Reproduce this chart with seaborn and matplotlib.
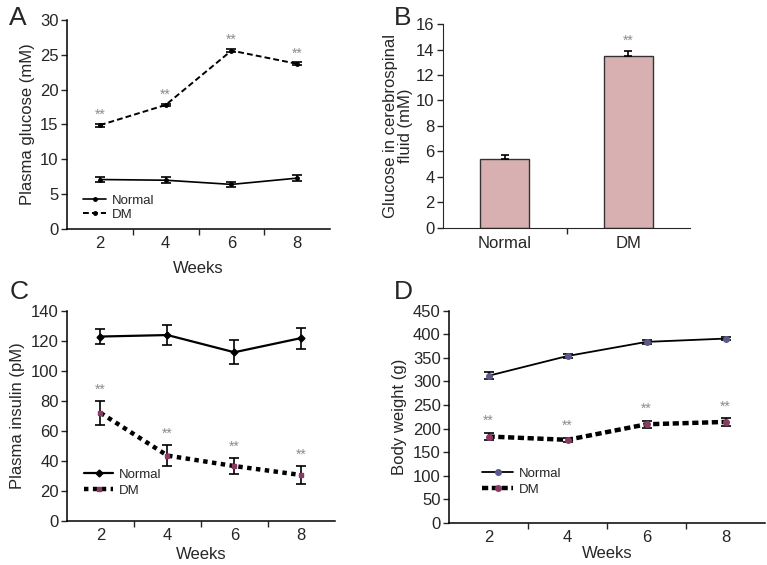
import numpy as np
import pandas as pd
import seaborn as sns
import matplotlib.pyplot as plt

weeks = ["2", "4", "6", "8"]

glucose_normal = [7.1, 7.0, 6.4, 7.3]
glucose_normal_err = [0.4, 0.4, 0.4, 0.4]
glucose_dm = [14.9, 17.8, 25.6, 23.7]
glucose_dm_err = [0.2, 0.2, 0.2, 0.2]

csf_groups = ["Normal", "DM"]
csf_glucose = [5.4, 13.5]
csf_err = [0.3, 0.35]

insulin_normal = [123, 124, 112.5, 122]
insulin_normal_err = [5, 6.5, 8, 7]
insulin_dm = [72, 43.5, 36.5, 30.5]
insulin_dm_err = [8, 7, 5.5, 6]

weight_normal = [312, 354, 384, 391]
weight_normal_err = [7, 4, 5, 4]
weight_dm = [183, 176, 209, 214]
weight_dm_err = [8, 4, 7, 8]

sns.set_style("ticks")
plt.rcParams['font.family'] = ['Liberation Sans', 'DejaVu Sans']
plt.rcParams['xtick.direction'] = 'out'
plt.rcParams['ytick.direction'] = 'out'

STAR = "#8c8c8c"
BAR = "#d9b0b1"


def long_df(normal, dm):
    return pd.DataFrame({
        "pos": list(range(len(weeks))) * 2,
        "value": list(normal) + list(dm),
        "group": ["Normal"] * len(weeks) + ["DM"] * len(weeks),
    })


def category_axis(ax, labels):
    n = len(labels)
    ax.set_xlim(-0.5, n - 0.5)
    ax.set_xticks(np.arange(n - 1) + 0.5)
    ax.set_xticklabels([])
    ax.set_xticks(np.arange(n), minor=True)
    ax.set_xticklabels(labels, minor=True)
    ax.tick_params(axis="x", which="minor", length=0, pad=5, labelsize=12)
    ax.tick_params(axis="x", which="major", length=4, width=1)
    ax.tick_params(axis="y", length=4, width=1, labelsize=12, pad=2)
    for s in ["left", "bottom"]:
        ax.spines[s].set_linewidth(1.1)
        ax.spines[s].set_color("black")
    sns.despine(ax=ax)


def line_panel(ax, normal, nerr, dm, derr, styles, ylim, step, ylabel, star_gap):
    df = long_df(normal, dm)
    sns.lineplot(data=df, x="pos", y="value", hue="group", style="group",
                 palette={"Normal": "black", "DM": "black"},
                 dashes={"Normal": "", "DM": styles["dm_dash"]},
                 markers=False, ax=ax, legend=False,
                 size="group", sizes={"Normal": styles["n_lw"], "DM": styles["d_lw"]})
    x = np.arange(len(weeks))
    ax.errorbar(x, normal, yerr=nerr, fmt=styles["n_marker"], ms=styles["ms"],
                color="black", mfc=styles["n_mc"], mec=styles["n_mc"],
                ecolor="black", elinewidth=1.2, capsize=3.5, capthick=1.2, zorder=5)
    ax.errorbar(x, dm, yerr=derr, fmt=styles["d_marker"], ms=styles["ms"],
                color="black", mfc=styles["d_mc"], mec=styles["d_mc"],
                ecolor="black", elinewidth=1.2, capsize=3.5, capthick=1.2, zorder=5)
    for xi, v, e in zip(x, dm, derr):
        ax.text(xi, v + e + star_gap, "**", ha="center", va="bottom",
                color=STAR, fontsize=10)
    ax.set_ylim(*ylim)
    ax.set_yticks(np.arange(ylim[0], ylim[1] + step / 2, step))
    ax.set_ylabel(ylabel, fontsize=12, labelpad=4)
    ax.set_xlabel("Weeks", fontsize=12, labelpad=styles["xpad"])
    category_axis(ax, weeks)
    h1 = plt.Line2D([], [], color="black", lw=styles["n_lw"], marker=styles["n_marker"],
                    ms=styles["ms"], mfc=styles["n_mc"], mec=styles["n_mc"])
    h2 = plt.Line2D([], [], color="black", lw=styles["d_lw"], marker=styles["d_marker"],
                    ms=styles["ms"], mfc=styles["d_mc"], mec=styles["d_mc"],
                    dashes=styles["dm_dash"])
    ax.legend([h1, h2], ["Normal", "DM"], loc="lower left", bbox_to_anchor=styles["leg"],
              frameon=False, fontsize=9.5, handlelength=styles["hl"], handletextpad=0.4,
              labelspacing=styles["ls"], markerscale=1.0)


fig = plt.figure(figsize=(7.67, 5.65), dpi=100)

axA = fig.add_axes([0.0874, 0.5947, 0.343, 0.370])
line_panel(axA, glucose_normal, glucose_normal_err, glucose_dm, glucose_dm_err,
           {"dm_dash": (3, 1.6), "n_lw": 1.2, "d_lw": 1.4, "n_marker": "o",
            "d_marker": "o", "ms": 2.5, "n_mc": "black", "d_mc": "black",
            "leg": (0.017, -0.018), "hl": 1.75, "ls": 0.15, "xpad": 7},
           (0, 30), 5, "Plasma glucose (mM)", 0.3)

axB = fig.add_axes([0.5776, 0.5965, 0.322, 0.361])
sns.barplot(x=csf_groups, y=csf_glucose, color=BAR, edgecolor="#333333",
            linewidth=1.0, width=0.4, saturation=1, ax=axB)
axB.errorbar(np.arange(len(csf_groups)), csf_glucose, yerr=[[0, 0], csf_err],
             fmt="none", ecolor="black", elinewidth=1.2, capsize=3, capthick=1.2)
axB.text(1, csf_glucose[1] + csf_err[1] + 0.3, "**", ha="center", va="bottom",
         color=STAR, fontsize=10)
axB.set_ylim(0, 16)
axB.set_yticks(np.arange(0, 17, 2))
axB.set_ylabel("Glucose in cerebrospinal\nfluid (mM)", fontsize=12, labelpad=2,
               linespacing=1.0)
axB.set_xlim(-0.5, 1.5)
axB.set_xticks([0.5])
axB.set_xticklabels([])
axB.set_xticks([0, 1], minor=True)
axB.set_xticklabels(csf_groups, minor=True)
axB.tick_params(axis="x", which="minor", length=0, pad=6, labelsize=12)
axB.tick_params(axis="x", which="major", length=4, width=1)
axB.tick_params(axis="y", length=4, width=1, labelsize=12, pad=2)
sns.despine(ax=axB)

axC = fig.add_axes([0.0874, 0.0784, 0.349, 0.371])
line_panel(axC, insulin_normal, insulin_normal_err, insulin_dm, insulin_dm_err,
           {"dm_dash": (1.0, 1.0), "n_lw": 1.6, "d_lw": 3.2, "n_marker": "D",
            "d_marker": "s", "ms": 3.5, "n_mc": "black", "d_mc": "#8b3a66",
            "leg": (0.02, 0.057), "hl": 2.2, "ls": 0.3, "xpad": 3},
           (0, 140), 20, "Plasma insulin (pM)", 3)

axD = fig.add_axes([0.5854, 0.0749, 0.412, 0.375])
line_panel(axD, weight_normal, weight_normal_err, weight_dm, weight_dm_err,
           {"dm_dash": (1.4, 0.8), "n_lw": 1.3, "d_lw": 3.2, "n_marker": "o",
            "d_marker": "o", "ms": 4, "n_mc": "#5a5a8c", "d_mc": "#8b3a66",
            "leg": (0.066, 0.07), "hl": 2.4, "ls": 0.3, "xpad": 1},
           (0, 450), 50, "Body weight (g)", 10)

for label, (x, y) in zip("ABCD", [(0.012, 0.968), (0.513, 0.968), (0.012, 0.483), (0.513, 0.483)]):
    fig.text(x, y, label, fontsize=19, ha="left", va="center")

fig.savefig("out.png", dpi=100)
